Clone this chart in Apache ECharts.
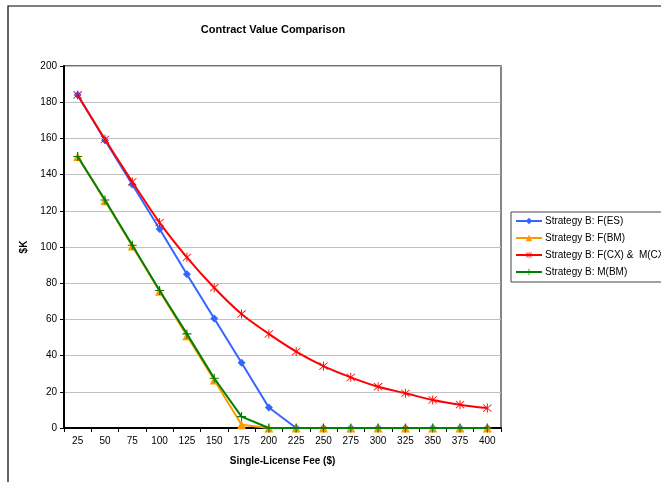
<!DOCTYPE html>
<html><head><meta charset="utf-8">
<script src="https://cdn.jsdelivr.net/npm/echarts@6/dist/echarts.min.js"></script>
<style>html,body{margin:0;padding:0;background:#fff}#c{width:661px;height:482px}</style>
</head><body><div id="c"></div>
<script>
const categories = ['25','50','75','100','125','150','175','200','225','250','275','300','325','350','375','400'];
const fES = [184,159,134.5,110,85,60.5,36,11.3,0,0,0,0,0,0,0,0];
const fBM = [150,125.5,100.5,75.5,51,26.5,1.8,0,0,0,0,0,0,0,0,0];
const fCX = [184,159.5,136,113.5,94.3,77.5,63,52,42.2,34.2,28,22.8,19.2,15.5,12.9,11];
const mBM = [150,126,101,76,52,27.5,6.3,0,0,0,0,0,0,0,0,0];
const names = ['Strategy B: F(ES)','Strategy B: F(BM)','Strategy B: F(CX) &  M(CX)','Strategy B: M(BM)'];
const yTicks = {min:0, max:200, interval:20};

const font = 'Liberation Sans, Arial, sans-serif';
const plus = 'path://M4.4,0H5.6V4.4H10V5.6H5.6V10H4.4V5.6H0V4.4H4.4Z';
const star = 'path://M4.55,0H5.45V10H4.55Z M0.7,1.3L1.3,0.7L9.3,8.7L8.7,9.3Z M9.3,1.3L8.7,0.7L0.7,8.7L1.3,9.3Z';

const chart = echarts.init(document.getElementById('c'));
chart.setOption({
  animation:false,
  textStyle:{fontFamily:font},
  title:{text:'Contract Value Comparison', left:268, top:19, textAlign:'center',
    textStyle:{fontSize:11, fontWeight:'bold', color:'#000', fontFamily:font}},
  graphic:[{type:'rect', shape:{x:8,y:6,width:700,height:520}, style:{fill:'none', stroke:'#000', lineWidth:1.2}, silent:true, z:-1}],
  legend:{orient:'vertical', left:511, top:212, itemWidth:26, itemHeight:8, itemGap:7,
    padding:[4,4,5,4], borderColor:'#444', borderWidth:1, backgroundColor:'#fff',
    textStyle:{fontSize:10, color:'#000', fontFamily:font, padding:[0,0,0,-2]},
    data:names},
  grid:{left:64, right:160, top:66, bottom:54, show:true, borderColor:'#444', borderWidth:1.3, backgroundColor:'transparent'},
  xAxis:{type:'category', data:categories, boundaryGap:true,
    name:'Single-License Fee ($)', nameLocation:'middle', nameGap:28,
    nameTextStyle:{fontSize:10, fontWeight:'bold', color:'#000', fontFamily:font},
    axisLine:{lineStyle:{color:'#000', width:2}},
    axisTick:{show:true, alignWithLabel:false, length:4, lineStyle:{color:'#000'}},
    axisLabel:{interval:0, fontSize:10, color:'#000', margin:8, fontFamily:font},
    splitLine:{show:false}},
  yAxis:{type:'value', min:yTicks.min, max:yTicks.max, interval:yTicks.interval,
    name:'$K', nameLocation:'middle', nameGap:32, nameRotate:90,
    nameTextStyle:{fontSize:10, fontWeight:'bold', color:'#000', fontFamily:font},
    axisLine:{show:true, lineStyle:{color:'#000', width:2}},
    axisTick:{show:true, length:4, lineStyle:{color:'#000'}},
    axisLabel:{fontSize:10, color:'#000', margin:7, fontFamily:font},
    splitLine:{show:true, lineStyle:{color:'#c0c0c0', width:1}}},
  series:[
    {name:names[0], type:'line', data:fES, symbol:'diamond', symbolSize:8,
      lineStyle:{color:'#3366ff', width:2}, itemStyle:{color:'#3366ff'}, z:2},
    {name:names[1], type:'line', data:fBM, symbol:'triangle', symbolSize:9,
      lineStyle:{color:'#ff9900', width:2}, itemStyle:{color:'#ff9900'}, z:3},
    {name:names[2], type:'line', data:fCX, smooth:0.3, symbol:star, symbolSize:9,
      lineStyle:{color:'#ff0000', width:2}, itemStyle:{color:'#ff0000'}, z:4},
    {name:names[3], type:'line', data:mBM, symbol:plus, symbolSize:9,
      lineStyle:{color:'#008000', width:2}, itemStyle:{color:'#008000'}, z:5}
  ]
});
</script></body></html>
